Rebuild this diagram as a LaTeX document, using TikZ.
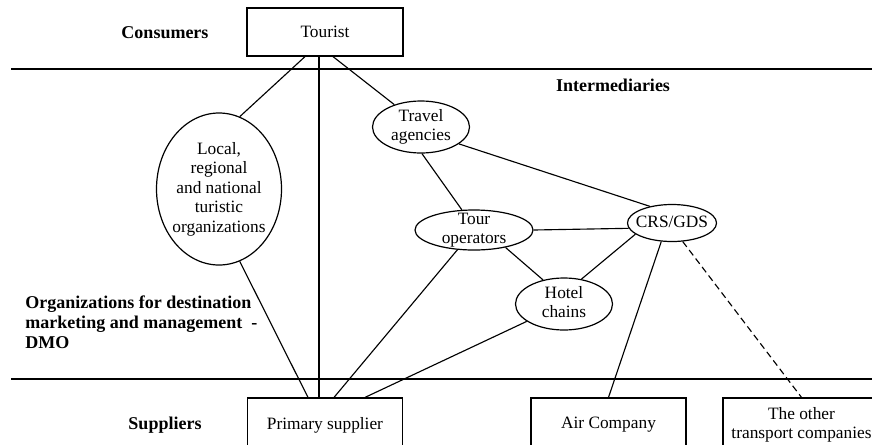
\documentclass[tikz,border=0pt]{standalone}
\usepackage{fontspec}
\setmainfont{Liberation Serif}
\usetikzlibrary{shapes.geometric,calc}
\newcommand{\ctext}[1]{\makebox[0pt]{\smash{\raisebox{-3.2pt}{\begin{tabular}[c]{@{}c@{}}#1\end{tabular}}}}}
\tikzset{
  every node/.style={font=\fontsize{13}{14.6}\selectfont},
  boxnode/.style={draw, line width=0.9pt, rectangle, inner sep=0pt, align=center},
  ellnode/.style={draw, line width=0.9pt, ellipse, inner sep=0pt},
  lbl/.style={font=\fontsize{13.5}{15}\selectfont\bfseries, inner sep=0pt},
  link/.style={line width=0.85pt},
  sep/.style={line width=1.1pt},
}
\begin{document}
\begin{tikzpicture}[x=0.75pt,y=-0.75pt]
\useasboundingbox (0,0) rectangle (872,444);
\clip (0,0) rectangle (872,444);
% separators
\coordinate (s1a) at (11,69);  \coordinate (s1b) at (872,69);
\coordinate (s2a) at (11,379); \coordinate (s2b) at (872,379);
\draw[sep] (s1a) -- (s1b);
\draw[sep] (s2a) -- (s2b);
% labels
\node[lbl] (consumers) at (165,33) {Consumers};
\node[lbl] (interm) at (613,85) {Intermediaries};
\node[lbl] (suppliers) at (165,425) {Suppliers};
\node[lbl, anchor=west, align=left] (dmo) at (25,322) {Organizations for destination\\marketing and management~~-\\DMO};
% boxes
\node[boxnode, minimum width=117pt, minimum height=36pt] (tourist) at (325,32) {Tourist};
\node[boxnode, minimum width=116.25pt, minimum height=40.5pt] (primary) at (325,425) {Primary supplier};
\node[boxnode, minimum width=116.25pt, minimum height=40.5pt] (air) at (608.5,425) {Air Company};
\node[boxnode, minimum width=117.75pt, minimum height=40.5pt] (other) at (801.5,425) {\ctext{The other\\transport companies}};
% ellipses
\node[ellnode, minimum width=93.75pt, minimum height=114pt] (local) at (219,189) {\ctext{Local,\\regional\\and national\\turistic\\organizations}};
\node[ellnode, minimum width=72.75pt, minimum height=39pt] (travel) at (421,127) {\ctext{Travel\\agencies}};
\node[ellnode, minimum width=88.5pt, minimum height=30pt] (tour) at (474,230) {\ctext{Tour\\operators}};
\node[ellnode, minimum width=66.75pt, minimum height=27.75pt] (crs) at (672,223) {\ctext{CRS/GDS}};
\node[ellnode, minimum width=72.75pt, minimum height=39pt] (hotel) at (564,304) {\ctext{Hotel\\chains}};
% connectors
\draw[link] ($(tourist.south)+(-20,0)$) -- (local.74);
\draw[link] ($(tourist.south)+(8,0)$) -- (travel.140);
\draw[link] ($(tourist.south)+(-6,0)$) -- ($(primary.north)+(-6,0)$);
\draw[link] (local.-74) -- ($(primary.north)+(-17,0)$);
\draw[link] (travel.-88) -- (tour.121);
\draw[link] (travel.-24) -- (crs.143);
\draw[link] (tour.0) -- (crs.187);
\draw[link] (tour.-29) -- (hotel.131);
\draw[link] (crs.197) -- (hotel.55);
\draw[link] (tour.-130) -- ($(primary.north)+(9,0)$);
\draw[link] (hotel.205) -- ($(primary.north)+(40,0)$);
\draw[link] (crs.240) -- (air.north);
\draw[link, dashed, dash pattern=on 5pt off 3pt] (crs.300) -- (other.north);
\end{tikzpicture}
\end{document}
